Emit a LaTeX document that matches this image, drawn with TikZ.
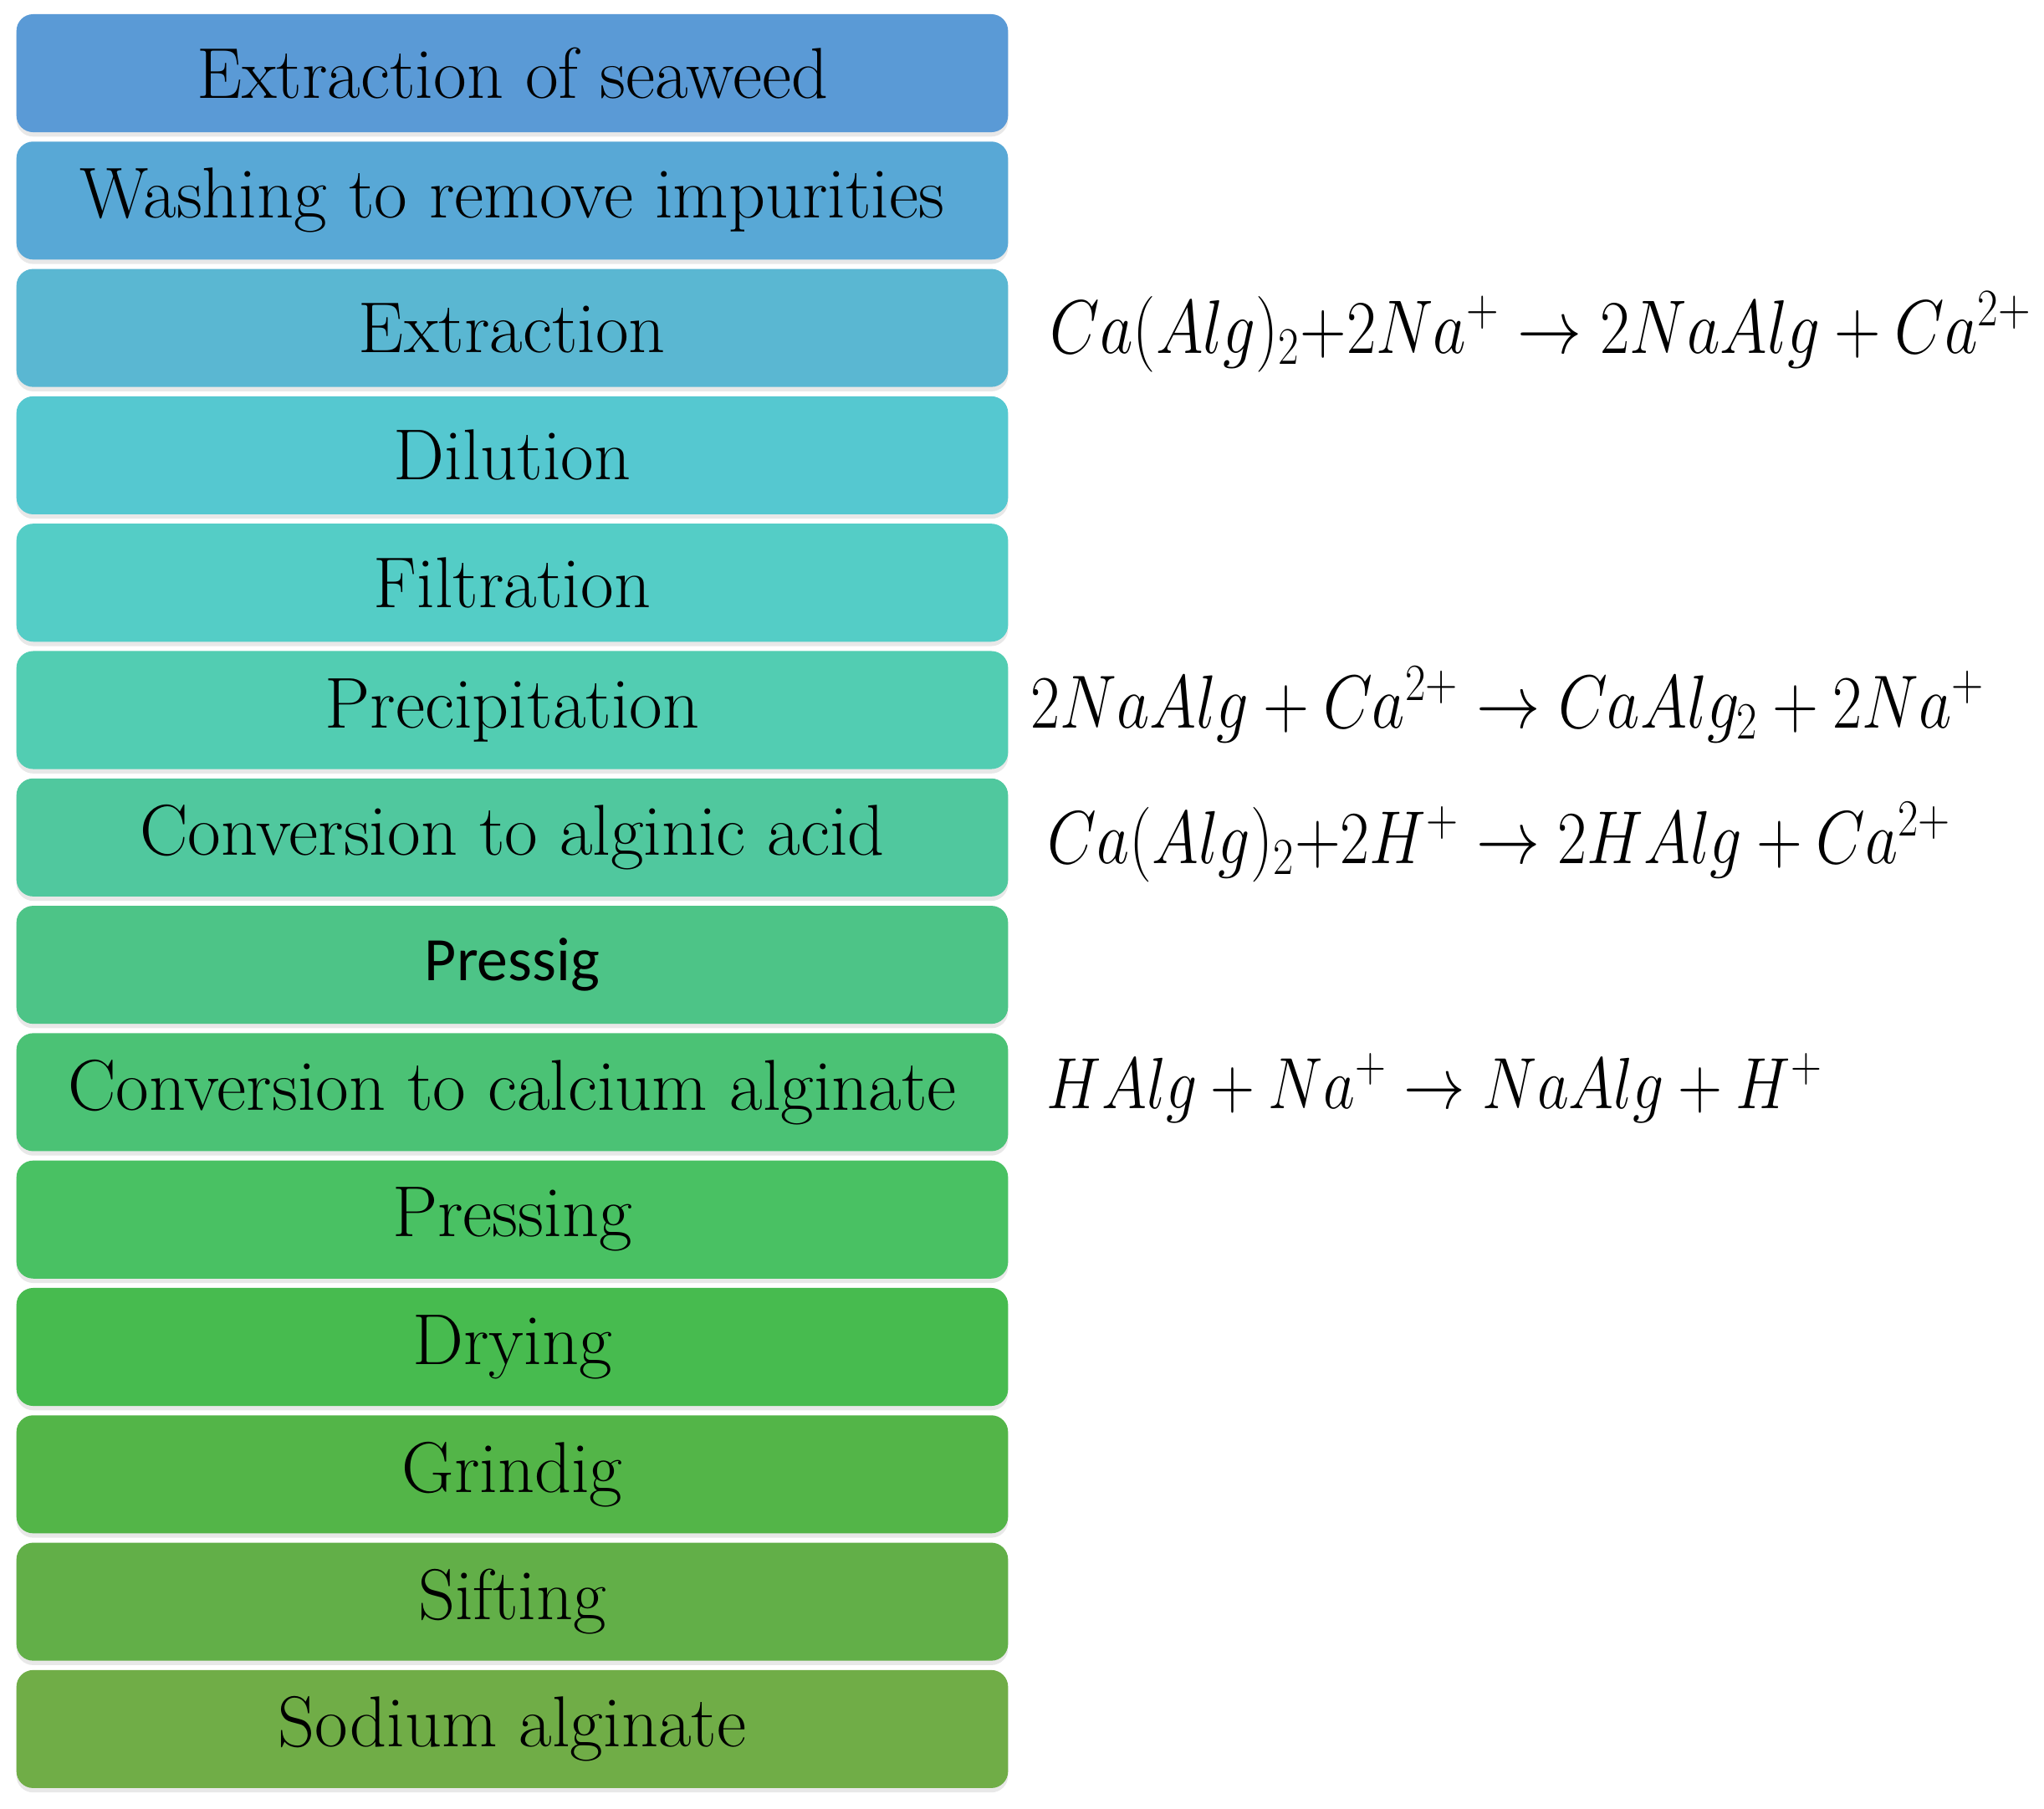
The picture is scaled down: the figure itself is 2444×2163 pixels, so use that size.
\documentclass[tikz,border=0pt]{standalone}
\usepackage{graphicx}
\usepackage{fontspec}
\newfontfamily\calibrifont{Carlito}
\usetikzlibrary{shadows}
\definecolor{c1}{HTML}{5A9AD6}
\definecolor{c2}{HTML}{58A8D6}
\definecolor{c3}{HTML}{5AB7D2}
\definecolor{c4}{HTML}{55C8D0}
\definecolor{c5}{HTML}{54CDC6}
\definecolor{c6}{HTML}{52CDB2}
\definecolor{c7}{HTML}{50C89E}
\definecolor{c8}{HTML}{4DC487}
\definecolor{c9}{HTML}{4BC275}
\definecolor{c10}{HTML}{49C163}
\definecolor{c11}{HTML}{47BB4F}
\definecolor{c12}{HTML}{53B548}
\definecolor{c13}{HTML}{62AF48}
\definecolor{c14}{HTML}{70AD47}
\tikzset{
  stepbox/.style={rectangle, rounded corners=0.2cm, minimum width=11.85cm, minimum height=1.41cm,
    inner sep=0pt, fill=#1, font=\fontsize{24.5}{29}\selectfont, text=black,
    drop shadow={opacity=0.18, shadow xshift=0pt, shadow yshift=-1.5pt}},
  eqn/.style={anchor=base west, inner sep=0pt, font=\fontsize{23}{28}\selectfont}
}
\newcommand{\eqbox}[2]{\scalebox{1}[1.18]{\resizebox{#1}{!}{#2}}}
\begin{document}
\begin{tikzpicture}[x=0.01cm, y=-0.01cm]
\useasboundingbox (0,0) rectangle (2444,2163);
\fill[white] (0,0) rectangle (2444,2163);
\node[stepbox=c1]  (b1)  at (612.5, 87.5) {Extraction of seaweed};
\node[stepbox=c2]  (b2)  at (612.5, 239.8) {Washing to remove impurities};
\node[stepbox=c3]  (b3)  at (612.5, 392.1) {Extraction};
\node[stepbox=c4]  (b4)  at (612.5, 544.4) {Dilution};
\node[stepbox=c5]  (b5)  at (612.5, 696.7) {Filtration};
\node[stepbox=c6]  (b6)  at (612.5, 849.0) {Precipitation};
\node[stepbox=c7]  (b7)  at (612.5, 1001.3) {Conversion to alginic acid};
\node[stepbox=c8, font=\calibrifont\fontsize{21}{25}\selectfont]  (b8)  at (612.5, 1153.6) {Pressig};
\node[stepbox=c9]  (b9)  at (612.5, 1305.9) {Conversion to calcium alginate};
\node[stepbox=c10] (b10) at (612.5, 1458.2) {Pressing};
\node[stepbox=c11] (b11) at (612.5, 1610.5) {Drying};
\node[stepbox=c12] (b12) at (612.5, 1762.8) {Grindig};
\node[stepbox=c13] (b13) at (612.5, 1915.1) {Sifting};
\node[stepbox=c14] (b14) at (612.5, 2067.4) {Sodium alginate};

\node[eqn] (e1) at (1255, 422) {\eqbox{11.73cm}{$Ca(Alg)_2{+}2Na^{+} \rightarrow 2NaAlg + Ca^{2+}$}};
\node[eqn] (e2) at (1232, 870) {\eqbox{11.40cm}{$2NaAlg + Ca^{2+} \rightarrow CaAlg_2 + 2Na^{+}$}};
\node[eqn] (e3) at (1252, 1032) {\eqbox{10.80cm}{$Ca(Alg)_2{+}2H^{+} \rightarrow 2HAlg + Ca^{2+}$}};
\node[eqn] (e4) at (1251, 1325) {\eqbox{9.27cm}{$HAlg + Na^{+} \rightarrow NaAlg + H^{+}$}};
\end{tikzpicture}
\end{document}
